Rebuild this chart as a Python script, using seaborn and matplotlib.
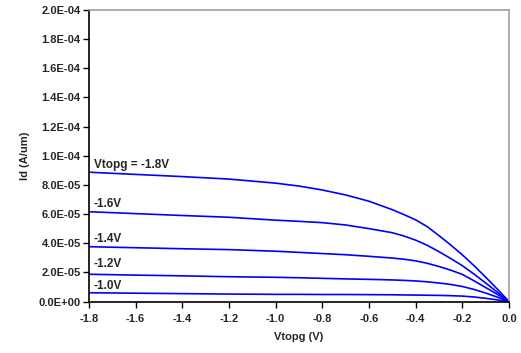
import matplotlib
matplotlib.use("Agg")
import matplotlib.pyplot as plt
import seaborn as sns
import pandas as pd
from matplotlib.ticker import FuncFormatter, MultipleLocator

vd = [-1.8, -1.6, -1.4, -1.2, -1.0, -0.9, -0.8, -0.7, -0.6, -0.5, -0.45, -0.4,
      -0.35, -0.3, -0.25, -0.2, -0.15, -0.1, -0.05, 0.0]
id_18 = [8.87, 8.72, 8.57, 8.40, 8.12, 7.92, 7.65, 7.31, 6.88, 6.30, 5.96, 5.60,
         5.13, 4.52, 3.88, 3.20, 2.46, 1.67, 0.85, 0.0]
id_16 = [6.16, 6.03, 5.90, 5.78, 5.58, 5.50, 5.41, 5.25, 5.00, 4.72, 4.49, 4.21,
         3.85, 3.42, 2.95, 2.46, 1.88, 1.27, 0.64, 0.0]
id_14 = [3.76, 3.69, 3.62, 3.56, 3.45, 3.37, 3.29, 3.21, 3.10, 2.98, 2.90, 2.79,
         2.62, 2.40, 2.15, 1.86, 1.42, 0.96, 0.49, 0.0]
id_12 = [1.87, 1.81, 1.76, 1.70, 1.66, 1.63, 1.59, 1.55, 1.52, 1.48, 1.45, 1.41,
         1.35, 1.27, 1.17, 1.03, 0.83, 0.58, 0.30, 0.0]
id_10 = [0.60, 0.57, 0.54, 0.51, 0.49, 0.49, 0.48, 0.48, 0.47, 0.46, 0.45, 0.44,
         0.43, 0.42, 0.40, 0.37, 0.31, 0.22, 0.11, 0.0]
series = {"-1.8V": id_18, "-1.6V": id_16, "-1.4V": id_14, "-1.2V": id_12, "-1.0V": id_10}
labels = ["Vtopg = -1.8V", "-1.6V", "-1.4V", "-1.2V", "-1.0V"]
label_y = [9.37, 6.69, 4.29, 2.57, 1.06]

rows = []
for name, vals in series.items():
    for x, y in zip(vd, vals):
        rows.append({"Vtopg": x, "Id": y * 1e-5, "curve": name})
df = pd.DataFrame(rows)

sns.set_style("white")
plt.rcParams["font.family"] = ["Liberation Sans", "DejaVu Sans"]
plt.rcParams["font.weight"] = "bold"

fig = plt.figure(figsize=(5.21, 3.53), dpi=100)
ax = fig.add_axes([89/521, 1-301.5/353, 420/521, 291.5/353])

sns.lineplot(data=df, x="Vtopg", y="Id", hue="curve", palette=["#0000FF"]*5,
             legend=False, ax=ax, linewidth=1.2, sort=True)

ax.set_xlim(-1.8, 0.0)
ax.set_ylim(0, 2.0e-4)
ax.xaxis.set_major_locator(MultipleLocator(0.2))
ax.yaxis.set_major_locator(MultipleLocator(2e-5))
ax.xaxis.set_major_formatter(FuncFormatter(lambda v, p: f"{v:.1f}".replace("-0.0", "0.0")))
ax.yaxis.set_major_formatter(FuncFormatter(lambda v, p: f"{v:.1E}"))

ax.tick_params(axis="both", direction="out", length=4, width=1, labelsize=8, pad=2,
               left=True, bottom=True, color="black")
ax.tick_params(axis="x", pad=5)
for lab in ax.get_xticklabels() + ax.get_yticklabels():
    lab.set_fontweight("bold")

ax.spines["left"].set_color("black")
ax.spines["bottom"].set_color("black")
ax.spines["top"].set_color("#A0A0A0")
ax.spines["right"].set_color("#A0A0A0")
for s in ax.spines.values():
    s.set_linewidth(1.2)

ax.set_xlabel("Vtopg (V)", fontsize=8, fontweight="bold", labelpad=6)
ax.set_ylabel("Id (A/um)", fontsize=8, fontweight="bold", labelpad=6)

for t, yv in zip(labels, label_y):
    ax.text(-1.779, yv * 1e-5, t, fontsize=8.5, fontweight="bold", va="center", ha="left")

fig.savefig("out.png", dpi=100)
